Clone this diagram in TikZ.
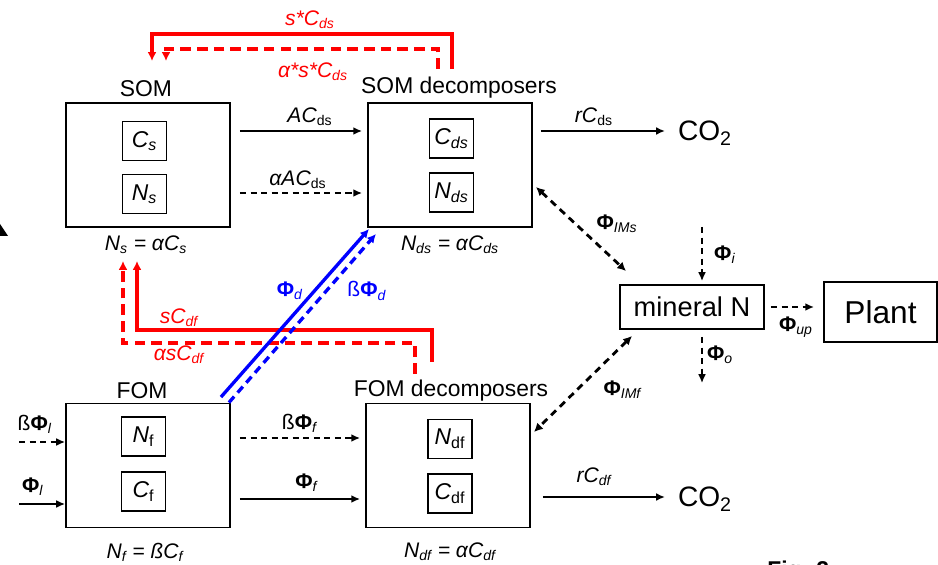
\documentclass[tikz,border=0pt]{standalone}
\usepackage{fontspec}
\setmainfont{Liberation Sans}
\usetikzlibrary{arrows.meta}
\definecolor{PoolRed}{HTML}{FF0000}
\definecolor{PoolBlue}{HTML}{0000FF}
\newcommand{\sbs}[1]{\textsubscript{#1}}
\newcommand{\Phib}{\textbf{Φ}}

\begin{document}
\begin{tikzpicture}[line join=miter,
  pool/.style={draw,line width=1.1pt,minimum width=3.28cm,minimum height=2.48cm},
  pooltag/.style={draw,line width=1.1pt,minimum width=0.88cm,minimum height=0.78cm,inner sep=2pt,font=\fontsize{13}{15}\selectfont},
  pooltitle/.style={font=\fontsize{13}{15}\selectfont},
  eqn/.style={font=\fontsize{12}{14}\selectfont},
  lbl/.style={font=\fontsize{12}{14}\selectfont},
  redlbl/.style={lbl,text=PoolRed},
  bluelbl/.style={lbl,text=PoolBlue},
  gasout/.style={font=\fontsize{16}{18}\selectfont,inner sep=1pt},
  flux/.style={line width=0.9pt,-{Latex[length=5pt,width=4.5pt]}},
  fluxd/.style={flux,dash pattern=on 3.5pt off 2.5pt},
  gap/.style={shorten <=0.18cm,shorten >=0.1cm},
  imflux/.style={line width=1.6pt,dash pattern=on 4pt off 3pt,{Latex[length=5pt,width=5pt]}-{Latex[length=5pt,width=5pt]}},
  redflow/.style={PoolRed,line width=1.9pt,-{Latex[length=5pt,width=5pt]}},
  blueflow/.style={PoolBlue,line width=1.9pt,-{Latex[length=5pt,width=5pt]}}]
  \useasboundingbox (0,0) rectangle (18.76,11.28);

  % soil organic matter and its decomposers
  \node[pool] (som) at (2.96,7.98) {};
  \node[pooltag] (cs) at (2.89,8.46) {\textit{C\sbs{s}}};
  \node[pooltag] (ns) at (2.89,7.40) {\textit{N\sbs{s}}};
  \node[pooltitle] (somlbl) at (2.92,9.50) {SOM};
  \node[eqn] (someq) at (2.92,6.38) {\textit{N\sbs{s} = αC\sbs{s}}};

  \node[pool] (somd) at (9.00,7.98) {};
  \node[pooltag] (cds) at (9.03,8.51) {\textit{C\sbs{ds}}};
  \node[pooltag] (nds) at (9.03,7.43) {\textit{N\sbs{ds}}};
  \node[pooltitle] (somdlbl) at (9.18,9.52) {SOM decomposers};
  \node[eqn] (somdeq) at (9.00,6.38) {\textit{N\sbs{ds} = αC\sbs{ds}}};

  % fresh organic matter and its decomposers
  \node[pool] (fom) at (2.96,1.97) {};
  \node[pooltag] (nf) at (2.87,2.55) {\textit{N}\sbs{f}};
  \node[pooltag] (cf) at (2.87,1.45) {\textit{C}\sbs{f}};
  \node[pooltitle] (fomlbl) at (2.84,3.46) {FOM};
  \node[eqn] (fomeq) at (2.90,0.24) {\textit{N\sbs{f} = ßC\sbs{f}}};

  \node[pool] (fomd) at (8.96,1.97) {};
  \node[pooltag] (ndf) at (9.00,2.50) {\textit{N}\sbs{df}};
  \node[pooltag] (cdf) at (9.00,1.41) {\textit{C}\sbs{df}};
  \node[pooltitle] (fomdlbl) at (9.02,3.46) {FOM decomposers};
  \node[eqn] (fomdeq) at (9.00,0.24) {\textit{N\sbs{df} = αC\sbs{df}}};

  % sinks
  \node[gasout] (co2s) at (14.10,8.62) {CO\sbs{2}};
  \node[gasout] (co2f) at (14.10,1.30) {CO\sbs{2}};
  \node[draw,line width=1.1pt,minimum width=2.88cm,minimum height=0.88cm,font=\fontsize{15.5}{17}\selectfont] (minn) at (13.84,5.14) {mineral N};
  \node[draw,line width=1.1pt,minimum width=2.26cm,minimum height=1.2cm,font=\fontsize{18}{20}\selectfont] (plant) at (17.61,5.04) {Plant};

  % carbon and nitrogen fluxes
  \draw[flux,gap] ([yshift=0.68cm]som.east) -- ([yshift=0.68cm]somd.west);
  \draw[fluxd,gap] ([yshift=-0.56cm]som.east) -- ([yshift=-0.56cm]somd.west);
  \draw[fluxd,gap] ([yshift=0.55cm]fom.east) -- ([yshift=0.55cm]fomd.west);
  \draw[flux,gap] ([yshift=-0.67cm]fom.east) -- ([yshift=-0.67cm]fomd.west);
  \draw[flux,shorten <=0.16cm,shorten >=0.22cm] ([yshift=0.68cm]somd.east) -- ([yshift=0.68cm]somd.east -| co2s.west);
  \draw[flux,shorten <=0.24cm,shorten >=0.22cm] ([yshift=-0.63cm]fomd.east) -- ([yshift=-0.63cm]fomd.east -| co2f.west);
  \node[lbl] (acds) at (6.20,8.94) {\textit{AC}\sbs{ds}};
  \node[lbl] (aacds) at (5.96,7.68) {\textit{αAC}\sbs{ds}};
  \node[lbl] (bphif) at (6.00,2.82) {ß\Phib\sbs{\textit{f}}};
  \node[lbl] (phif) at (6.14,1.62) {\Phib\sbs{\textit{f}}};
  \node[lbl] (rcds) at (11.88,8.94) {\textit{rC}\sbs{ds}};
  \node[lbl] (rcdf) at (11.88,1.74) {\textit{rC\sbs{df}}};

  % litter input
  \coordinate (inbeta) at (0.38,2.44);
  \coordinate (inphi) at (0.38,1.20);
  \draw[fluxd] (inbeta) -- (inbeta -| fom.west);
  \draw[flux] (inphi) -- (inphi -| fom.west);
  \node[lbl] (bphil) at (0.70,2.80) {ß\Phib\sbs{\textit{l}}};
  \node[lbl] (phil) at (0.66,1.54) {\Phib\sbs{\textit{l}}};

  % mortality back to SOM
  \draw[redflow] ([xshift=0.04cm,yshift=0.66cm]somd.north) |- ([xshift=0.08cm,yshift=1.36cm]som.north) -- ([xshift=0.08cm,yshift=0.82cm]som.north);
  \draw[redflow,dash pattern=on 6pt off 3.5pt] ([xshift=-0.24cm,yshift=0.66cm]somd.north) |- ([xshift=0.36cm,yshift=1.06cm]som.north) -- ([xshift=0.36cm,yshift=0.82cm]som.north);
  \node[redlbl] (scds) at (6.20,10.88) {\textit{s*C\sbs{ds}}};
  \node[redlbl] (ascds) at (6.26,9.84) {\textit{α*s*C\sbs{ds}}};
  \draw[redflow] ([xshift=-0.32cm,yshift=0.82cm]fomd.north) |- ([xshift=-0.22cm,yshift=-2.04cm]som.south) -- ([xshift=-0.22cm,yshift=-0.66cm]som.south);
  \draw[redflow,dash pattern=on 6pt off 3.5pt] ([xshift=-0.66cm,yshift=0.58cm]fomd.north) |- ([xshift=-0.50cm,yshift=-2.30cm]som.south) -- ([xshift=-0.50cm,yshift=-0.66cm]som.south);
  \node[redlbl] (scdf) at (3.58,4.92) {\textit{sC\sbs{df}}};
  \node[redlbl] (ascdf) at (3.58,4.18) {\textit{αsC\sbs{df}}};

  % FOM to SOM decomposers
  \draw[blueflow] ([xshift=-0.2cm,yshift=0.11cm]fom.north east) -- ([xshift=0.04cm,yshift=-0.02cm]somd.south west);
  \draw[blueflow,dash pattern=on 4.5pt off 3pt] ([xshift=-0.04cm]fom.north east) -- ([xshift=0.18cm,yshift=-0.12cm]somd.south west);
  \node[bluelbl] (phid) at (5.80,5.46) {\Phib\sbs{\textit{d}}};
  \node[bluelbl] (bphid) at (7.34,5.46) {ß\Phib\sbs{\textit{d}}};

  % mineral N exchanges
  \draw[imflux] ([xshift=0.06cm,yshift=-0.44cm]somd.east) -- ([xshift=0.14cm,yshift=0.26cm]minn.north west);
  \draw[imflux] ([xshift=0.26cm,yshift=-0.12cm]minn.south west) -- ([xshift=0.06cm,yshift=0.67cm]fomd.east);
  \node[lbl] (phims) at (12.34,6.80) {\Phib\sbs{\textit{IMs}}};
  \node[lbl] (phimf) at (12.46,3.48) {\Phib\sbs{\textit{IMf}}};
  \coordinate (phiin) at (14.04,6.74);
  \coordinate (phiout) at (14.04,3.62);
  \draw[fluxd,shorten >=0.06cm] (phiin) -- (phiin |- minn.north);
  \draw[fluxd,shorten <=0.14cm] (phiout |- minn.south) -- (phiout);
  \draw[fluxd,line width=1.4pt,shorten <=0.12cm,shorten >=0.18cm] (minn.east) -- (minn.east -| plant.west);
  \node[lbl] (phii) at (14.50,6.18) {\Phib\sbs{\textit{i}}};
  \node[lbl] (phio) at (14.40,4.18) {\Phib\sbs{\textit{o}}};
  \node[lbl] (phiup) at (15.92,4.74) {\Phib\sbs{\textit{up}}};

  % cut-off bits at the page edges
  \fill (0,6.80) -- (0.16,6.56) -- (0,6.56) -- cycle;
  \node[font=\bfseries\fontsize{13}{15}\selectfont,anchor=north west,inner sep=0pt] (figtag) at (15.34,0.07) {Fig. 2};
\end{tikzpicture}
\end{document}
